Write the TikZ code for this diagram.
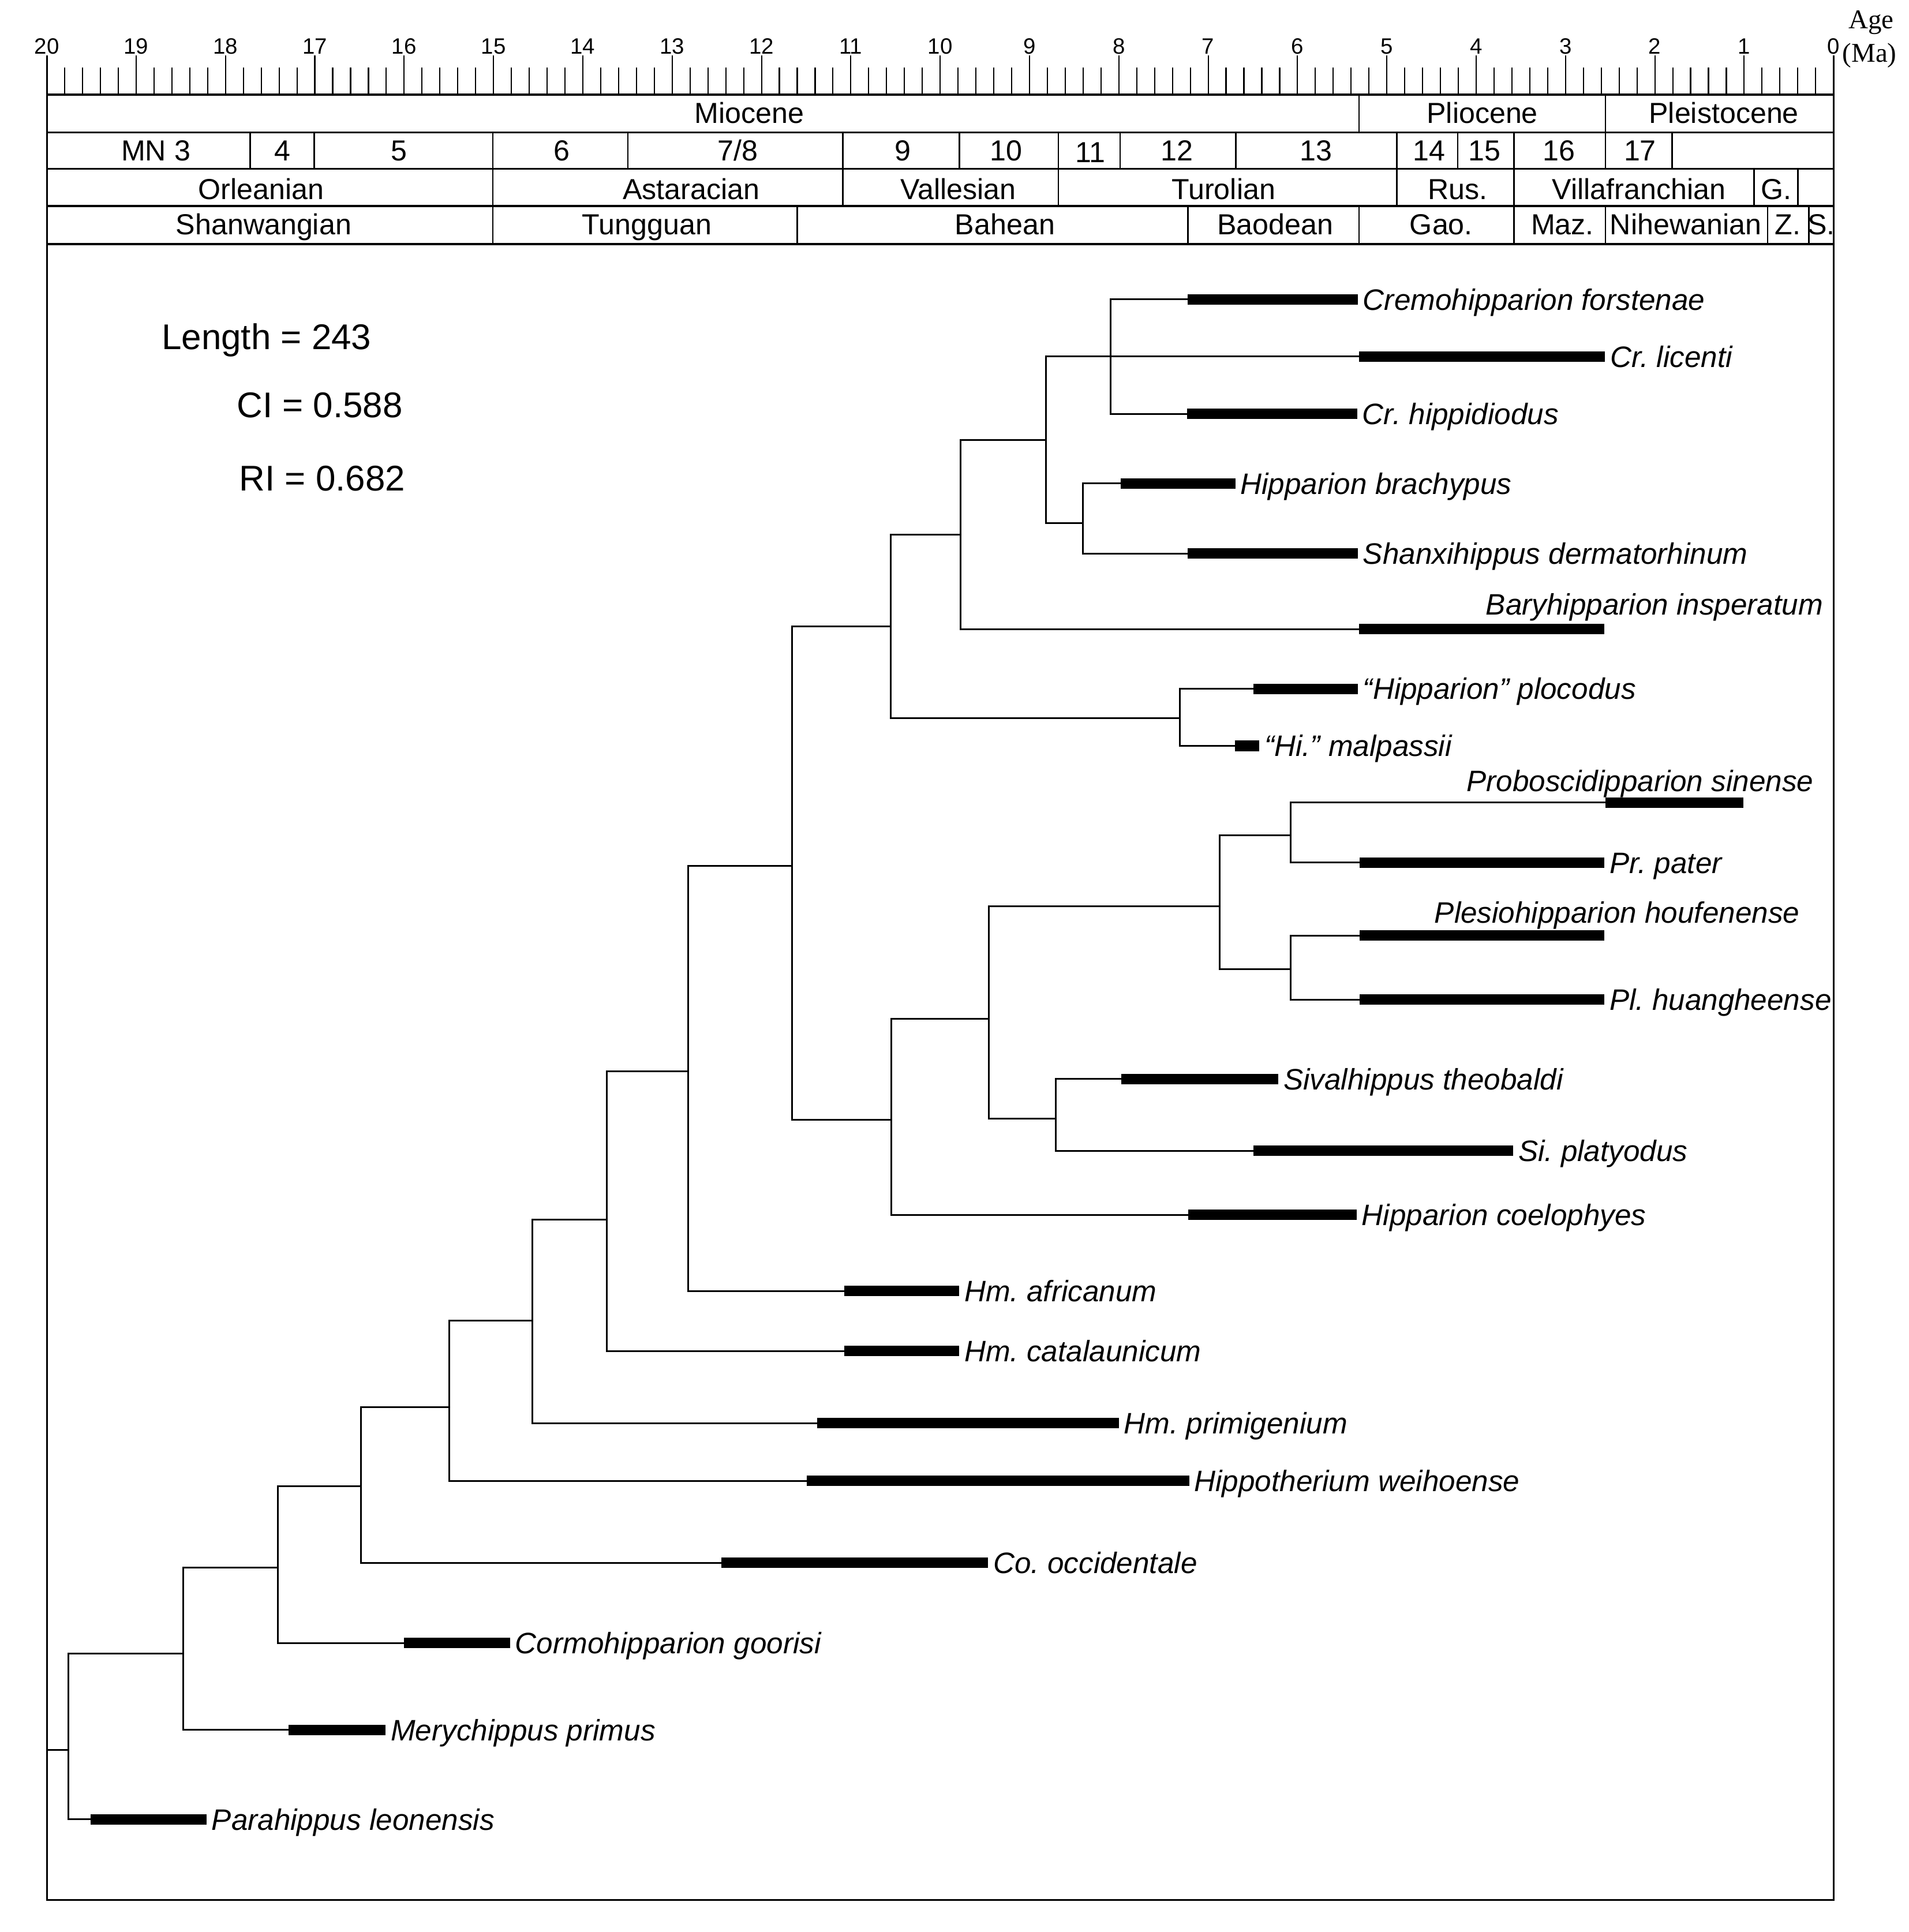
\documentclass[tikz,border=0pt]{standalone}
\usepackage{fontspec}
\setmainfont{Liberation Sans}
\newfontfamily\agefont{Liberation Serif}
\frenchspacing
\begin{document}
\begin{tikzpicture}[x=1pt,y=-1pt,
  branch/.style={line width=1.4pt},
  rangebar/.style={line width=8.5pt},
  sp/.style={anchor=base west, inner sep=0pt, font=\fontsize{24}{28}\selectfont\itshape, xshift=4pt, yshift=-8.6pt},
  spfree/.style={inner sep=0pt, font=\fontsize{24}{28}\selectfont\itshape},
  hdr/.style={anchor=base, inner sep=0pt, font=\fontsize{23.5}{27}\selectfont},
  ticknum/.style={anchor=base, inner sep=0pt, font=\fontsize{18}{20}\selectfont},
  stat/.style={anchor=base west, inner sep=0pt, font=\fontsize{29}{34}\selectfont},
  boxline/.style={line width=1.3pt},
  hline/.style={line width=1.8pt},
  vline/.style={line width=1.2pt},
  tickline/.style={line width=1pt}]
\useasboundingbox (0,0) rectangle (1549,1568);

% ---------- time ruler ----------
\foreach \k in {0,...,100} \draw[tickline] ({38+14.5*\k},55) -- ({38+14.5*\k},77);
\foreach \a in {0,...,20} {
  \draw[tickline] ({38+72.5*(20-\a)},45) -- ({38+72.5*(20-\a)},77);
  \node[ticknum] (t\a) at ({38+72.5*(20-\a)},43.7) {\a};
}
\node[anchor=base west, inner sep=0pt, font=\agefont\fontsize{22}{24}\selectfont] (age) at (1500,23.4) {Age};
\node[anchor=base west, inner sep=0pt, font=\agefont\fontsize{22}{24}\selectfont] (ma) at (1495,50.3) {(Ma)};

% ---------- frame and header rows ----------
\draw[boxline] (38,45) -- (38,1542) -- (1488,1542) -- (1488,45);
\foreach \y in {77,107.5,137,167,198} \draw[hline] (38,\y) -- (1488,\y);
% row 1 dividers
\foreach \x in {1103,1303} \draw[vline] (\x,77) -- (\x,107.5);
% row 2 dividers
\foreach \x in {203,255,400,509.6,684,778.5,859,909,1003,1133.5,1183,1228.6,1303,1357}
  \draw[vline] (\x,107.5) -- (\x,137);
% row 3 dividers
\foreach \x in {400,684,859,1133.5,1228.6,1423.6,1459} \draw[vline] (\x,137) -- (\x,167);
% row 4 dividers
\foreach \x in {400,647,964,1103,1228.6,1303,1434.6,1468} \draw[vline] (\x,167) -- (\x,198);

% row 1 texts
\node[hdr] (e1) at (608,99.9) {Miocene};
\node[hdr] (e2) at (1203,99.9) {Pliocene};
\node[hdr] (e3) at (1399,99.9) {Pleistocene};
% row 2 texts
\node[hdr] (m3) at (126.5,130.4) {MN 3};
\node[hdr] (m4) at (229,130.4) {4};
\node[hdr] (m5) at (324,130.4) {5};
\node[hdr] (m6) at (456,130.4) {6};
\node[hdr] (m78) at (598.7,130.4) {7/8};
\node[hdr] (m9) at (732.6,130.4) {9};
\node[hdr] (m10) at (816.4,130.4) {10};
\node[hdr] (m11) at (885,132) {11};
\node[hdr] (m12) at (955.3,130.4) {12};
\node[hdr] (m13) at (1068,130.4) {13};
\node[hdr] (m14) at (1160,130.4) {14};
\node[hdr] (m15) at (1204.7,130.4) {15};
\node[hdr] (m16) at (1265,130.4) {16};
\node[hdr] (m17) at (1331,130.4) {17};
% row 3 texts
\node[hdr] (s1) at (212,161.6) {Orleanian};
\node[hdr] (s2) at (561,161.6) {Astaracian};
\node[hdr] (s3) at (777.7,161.6) {Vallesian};
\node[hdr] (s4) at (993,161.6) {Turolian};
\node[hdr] (s5) at (1183,161.6) {Rus.};
\node[hdr] (s6) at (1330,161.6) {Villafranchian};
\node[hdr] (s7) at (1441.7,161.6) {G.};
% row 4 texts
\node[hdr] (c1) at (214,190.5) {Shanwangian};
\node[hdr] (c2) at (525,190.5) {Tungguan};
\node[hdr] (c3) at (815.6,190.5) {Bahean};
\node[hdr] (c4) at (1035,190.5) {Baodean};
\node[hdr] (c5) at (1169.6,190.5) {Gao.};
\node[hdr] (c6) at (1268,190.5) {Maz.};
\node[hdr] (c7) at (1368,190.5) {Nihewanian};
\node[hdr] (c8) at (1451,190.5) {Z.};
\node[hdr] (c9) at (1478,190.5) {S.};

% ---------- statistics ----------
\node[stat] (len) at (131,283.4) {Length = 243};
\node[stat] (ci) at (192,338.8) {CI = 0.588};
\node[stat] (ri) at (194,398.1) {RI = 0.682};

% ---------- internal nodes ----------
\coordinate (root) at (38,1420);
\coordinate (U) at (55.6,1420);
\coordinate (T) at (148.5,1342);
\coordinate (S) at (225.4,1272);
\coordinate (R) at (292.8,1206);
\coordinate (Q) at (364.7,1141.8);
\coordinate (P) at (432,1072);
\coordinate (O) at (492.3,989.7);
\coordinate (N) at (558.4,869.3);
\coordinate (M) at (642.9,702.6);
\coordinate (E) at (723,508.4);
\coordinate (L) at (723.2,909);
\coordinate (D) at (779.7,433.8);
\coordinate (F) at (957.5,583);
\coordinate (C) at (849,357.3);
\coordinate (A) at (901.5,289.3);
\coordinate (B) at (879,424.4);
\coordinate (J) at (802.4,827);
\coordinate (K) at (856.8,908);
\coordinate (I) at (990,735.3);
\coordinate (G) at (1047.6,677.8);
\coordinate (H) at (1047.6,786.4);

% ---------- tips: bar start (b) and bar end (e) ----------
\coordinate (b1) at (964,243);      \coordinate (e1x) at (1102,243);
\coordinate (b2) at (1103,289.3);   \coordinate (e2x) at (1302.6,289.3);
\coordinate (b3) at (963.5,335.8);  \coordinate (e3x) at (1101.5,335.8);
\coordinate (b4) at (909.5,392.3);  \coordinate (e4x) at (1002.5,392.3);
\coordinate (b5) at (964,449.2);    \coordinate (e5x) at (1102,449.2);
\coordinate (b6) at (1103,510.6);   \coordinate (e6x) at (1302,510.6);
\coordinate (b7) at (1017,559);     \coordinate (e7x) at (1102,559);
\coordinate (b8) at (1002,605.3);   \coordinate (e8x) at (1022,605.3);
\coordinate (b9) at (1303,651.3);   \coordinate (e9x) at (1415,651.3);
\coordinate (b10) at (1103.5,700);  \coordinate (e10x) at (1302,700);
\coordinate (b11) at (1103.5,759.3);\coordinate (e11x) at (1302,759.3);
\coordinate (b12) at (1103.5,811.3);\coordinate (e12x) at (1302,811.3);
\coordinate (b13) at (910,875.7);   \coordinate (e13x) at (1037.5,875.7);
\coordinate (b14) at (1017,934);    \coordinate (e14x) at (1228,934);
\coordinate (b15) at (964.3,986);   \coordinate (e15x) at (1101,986);
\coordinate (b16) at (685,1047.8);  \coordinate (e16x) at (778.5,1047.8);
\coordinate (b17) at (685,1096.5);  \coordinate (e17x) at (778.5,1096.5);
\coordinate (b18) at (663.3,1155);  \coordinate (e18x) at (908,1155);
\coordinate (b19) at (654.8,1201.8);\coordinate (e19x) at (965,1201.8);
\coordinate (b20) at (585.5,1268.4);\coordinate (e20x) at (802,1268.4);
\coordinate (b21) at (328,1333.5);  \coordinate (e21x) at (414,1333.5);
\coordinate (b22) at (234,1404);    \coordinate (e22x) at (313,1404);
\coordinate (b23) at (73.5,1476.5); \coordinate (e23x) at (167.6,1476.5);

% ---------- branches ----------
\draw[branch] (root) -- (U);
\draw[branch] (U) |- (T);
\draw[branch] (U) |- (b23);
\draw[branch] (T) |- (S);
\draw[branch] (T) |- (b22);
\draw[branch] (S) |- (R);
\draw[branch] (S) |- (b21);
\draw[branch] (R) |- (Q);
\draw[branch] (R) |- (b20);
\draw[branch] (Q) |- (P);
\draw[branch] (Q) |- (b19);
\draw[branch] (P) |- (O);
\draw[branch] (P) |- (b18);
\draw[branch] (O) |- (N);
\draw[branch] (O) |- (b17);
\draw[branch] (N) |- (M);
\draw[branch] (N) |- (b16);
\draw[branch] (M) |- (E);
\draw[branch] (M) |- (L);
\draw[branch] (E) |- (D);
\draw[branch] (E) |- (F);
\draw[branch] (D) |- (C);
\draw[branch] (D) |- (b6);
\draw[branch] (C) |- (A);
\draw[branch] (C) |- (B);
\draw[branch] (A) |- (b1);
\draw[branch] (A) -- (b2);
\draw[branch] (A) |- (b3);
\draw[branch] (B) |- (b4);
\draw[branch] (B) |- (b5);
\draw[branch] (F) |- (b7);
\draw[branch] (F) |- (b8);
\draw[branch] (L) |- (J);
\draw[branch] (L) |- (b15);
\draw[branch] (J) |- (I);
\draw[branch] (J) |- (K);
\draw[branch] (I) |- (G);
\draw[branch] (I) |- (H);
\draw[branch] (G) |- (b9);
\draw[branch] (G) |- (b10);
\draw[branch] (H) |- (b11);
\draw[branch] (H) |- (b12);
\draw[branch] (K) |- (b13);
\draw[branch] (K) |- (b14);

% ---------- stratigraphic range bars ----------
\foreach \i in {1,...,23} \draw[rangebar] (b\i) -- (e\i x);

% ---------- taxon labels ----------
\node[sp] (n1) at (e1x) {Cremohipparion forstenae};
\node[sp] (n2) at (e2x) {Cr. licenti};
\node[sp] (n3) at (e3x) {Cr. hippidiodus};
\node[sp] (n4) at (e4x) {Hipparion brachypus};
\node[sp] (n5) at (e5x) {Shanxihippus dermatorhinum};
\node[spfree, anchor=base east] (n6) at (1479.6,499) {Baryhipparion insperatum};
\node[sp] (n7) at (e7x) {“Hipparion” plocodus};
\node[sp] (n8) at (e8x) {“Hi.” malpassii};
\node[spfree, anchor=base west] (n9) at (1190,642.4) {Proboscidipparion sinense};
\node[sp] (n10) at (e10x) {Pr. pater};
\node[spfree, anchor=base west] (n11) at (1164,749.3) {Plesiohipparion houfenense};
\node[sp] (n12) at (e12x) {Pl. huangheense};
\node[sp] (n13) at (e13x) {Sivalhippus theobaldi};
\node[sp] (n14) at (e14x) {Si. platyodus};
\node[sp] (n15) at (e15x) {Hipparion coelophyes};
\node[sp] (n16) at (e16x) {Hm. africanum};
\node[sp] (n17) at (e17x) {Hm. catalaunicum};
\node[sp] (n18) at (e18x) {Hm. primigenium};
\node[sp] (n19) at (e19x) {Hippotherium weihoense};
\node[sp] (n20) at (e20x) {Co. occidentale};
\node[sp] (n21) at (e21x) {Cormohipparion goorisi};
\node[sp] (n22) at (e22x) {Merychippus primus};
\node[sp] (n23) at (e23x) {Parahippus leonensis};
\end{tikzpicture}
\end{document}
